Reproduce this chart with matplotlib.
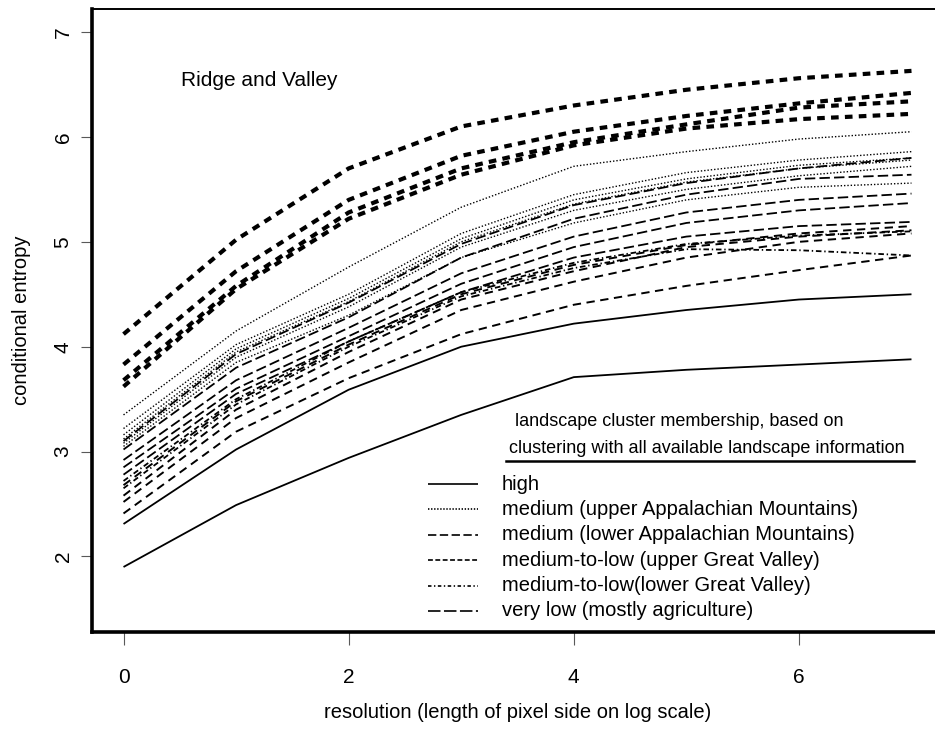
import matplotlib
matplotlib.use("Agg")
import matplotlib.pyplot as plt
from matplotlib.lines import Line2D

plt.rcParams["font.family"] = ["Liberation Sans", "DejaVu Sans"]
plt.rcParams["lines.scale_dashes"] = False

# resolution steps (log scale of pixel side)
resolution = [0, 1, 2, 3, 4, 5, 6, 7]

# conditional entropy per landscape, grouped by cluster
high = [
    [1.90, 2.49, 2.94, 3.35, 3.71, 3.78, 3.83, 3.88],
    [2.31, 3.02, 3.59, 4.00, 4.22, 4.35, 4.45, 4.50],
]
medium_upper_app = [
    [3.35, 4.15, 4.76, 5.33, 5.72, 5.86, 5.98, 6.05],
    [3.22, 4.02, 4.50, 5.08, 5.45, 5.66, 5.78, 5.86],
    [3.16, 3.98, 4.46, 5.03, 5.40, 5.60, 5.73, 5.80],
    [3.12, 3.95, 4.43, 5.00, 5.36, 5.57, 5.70, 5.78],
    [3.08, 3.90, 4.38, 4.95, 5.30, 5.50, 5.63, 5.72],
    [3.05, 3.85, 4.30, 4.85, 5.18, 5.40, 5.52, 5.56],
]
medium_lower_app = [
    [3.10, 3.93, 4.42, 4.98, 5.35, 5.56, 5.70, 5.80],
    [3.02, 3.80, 4.28, 4.85, 5.22, 5.45, 5.60, 5.64],
    [2.92, 3.68, 4.18, 4.70, 5.05, 5.28, 5.40, 5.46],
    [2.85, 3.60, 4.10, 4.60, 4.95, 5.18, 5.30, 5.37],
    [2.78, 3.55, 4.05, 4.52, 4.85, 5.05, 5.15, 5.19],
]
medlow_upper_gv = [
    [4.12, 5.02, 5.70, 6.10, 6.30, 6.45, 6.56, 6.63],
    [3.83, 4.72, 5.40, 5.82, 6.05, 6.20, 6.32, 6.42],
    [3.68, 4.58, 5.28, 5.70, 5.95, 6.12, 6.28, 6.34],
    [3.62, 4.55, 5.22, 5.64, 5.92, 6.08, 6.17, 6.22],
]
medlow_lower_gv = [
    [2.65, 3.45, 4.00, 4.48, 4.75, 4.93, 4.92, 4.87],
    [2.72, 3.50, 4.05, 4.52, 4.80, 4.98, 5.06, 5.10],
]
very_low = [
    [2.41, 3.19, 3.70, 4.12, 4.40, 4.58, 4.73, 4.87],
    [2.52, 3.32, 3.85, 4.35, 4.62, 4.85, 5.00, 5.08],
    [2.58, 3.40, 3.95, 4.45, 4.72, 4.95, 5.05, 5.11],
    [2.68, 3.48, 4.02, 4.50, 4.78, 4.97, 5.08, 5.15],
]

group_labels = [
    "high",
    "medium (upper Appalachian Mountains)",
    "medium (lower Appalachian Mountains)",
    "medium-to-low (upper Great Valley)",
    "medium-to-low(lower Great Valley)",
    "very low (mostly agriculture)",
]
groups = [high, medium_upper_app, medium_lower_app,
          medlow_upper_gv, medlow_lower_gv, very_low]

# (linewidth, dashes) for the plot, and dashes for the legend sample
plot_styles = [
    (1.3, None),
    (1.0, (1.0, 1.4)),
    (1.3, (7.5, 3.0)),
    (3.0, (5.5, 4.5)),
    (1.3, (4.0, 2.0, 1.0, 2.0)),
    (1.4, (6.0, 4.0)),
]
legend_dashes = [None, (1.0, 1.2), (6.0, 2.5), (3.5, 1.8),
                 (2.5, 1.8, 1.0, 1.8), (9.0, 2.5)]

W, H = 935, 729
fig = plt.figure(figsize=(W / 100, H / 100), dpi=100)
ax = fig.add_axes([92 / W, 97 / H, 851 / W, 623 / H])


def fx(px):
    return px / W


def fy(py):
    return 1 - py / H


for data, (lw, dash) in zip(groups, plot_styles):
    for vals in data:
        line, = ax.plot(resolution, vals, color="black", lw=lw,
                        solid_capstyle="butt", dash_capstyle="butt")
        if dash is not None:
            line.set_dashes(dash)

ax.set_xlim(-0.28, 7.28)
ax.set_ylim(1.28, 7.22)
ax.set_xticks([0, 2, 4, 6])
ax.set_yticks([2, 3, 4, 5, 6, 7])

ax.spines["left"].set_linewidth(2.6)
ax.spines["bottom"].set_linewidth(2.6)
ax.spines["top"].set_linewidth(1.4)
ax.spines["right"].set_linewidth(1.4)

ax.tick_params(axis="x", direction="out", length=9, width=0.8,
               color="0.35", pad=17, labelsize=15)
ax.tick_params(axis="y", direction="out", length=8, width=0.8,
               color="0.35", pad=6, labelsize=15)
for lab in ax.get_yticklabels():
    lab.set_rotation(90)
    lab.set_va("center")

ax.set_xlabel("resolution (length of pixel side on log scale)", fontsize=14.5)
ax.xaxis.set_label_coords(0.5, (632 - 712) / 623)
ax.xaxis.label.set_va("center")
ax.set_ylabel("conditional entropy", fontsize=14.5)
ax.yaxis.set_label_coords((22 - 92) / 851, 0.5)
ax.yaxis.label.set_va("center")

ax.text((181 - 92) / 851, (632 - 80) / 623, "Ridge and Valley",
        transform=ax.transAxes, fontsize=15, ha="left", va="center")

# legend block, drawn by hand to match the original layout
fig.text(fx(515), fy(421), "landscape cluster membership, based on",
         fontsize=13, ha="left", va="center")
fig.text(fx(509), fy(448), "clustering with all available landscape information",
         fontsize=13, ha="left", va="center")
fig.add_artist(Line2D([fx(506), fx(914)], [fy(461), fy(461)],
                      transform=fig.transFigure, color="black", lw=1.8))
for i, (label, dash) in enumerate(zip(group_labels, legend_dashes)):
    yy = fy(484 + 25.4 * i)
    ln = Line2D([fx(428), fx(478)], [yy, yy], transform=fig.transFigure,
                color="black", lw=1.2, solid_capstyle="butt",
                dash_capstyle="butt")
    if dash is not None:
        ln.set_dashes(dash)
    fig.add_artist(ln)
    fig.text(fx(502), yy, label, fontsize=14.5, ha="left", va="center")

fig.savefig("out.png", dpi=100)
